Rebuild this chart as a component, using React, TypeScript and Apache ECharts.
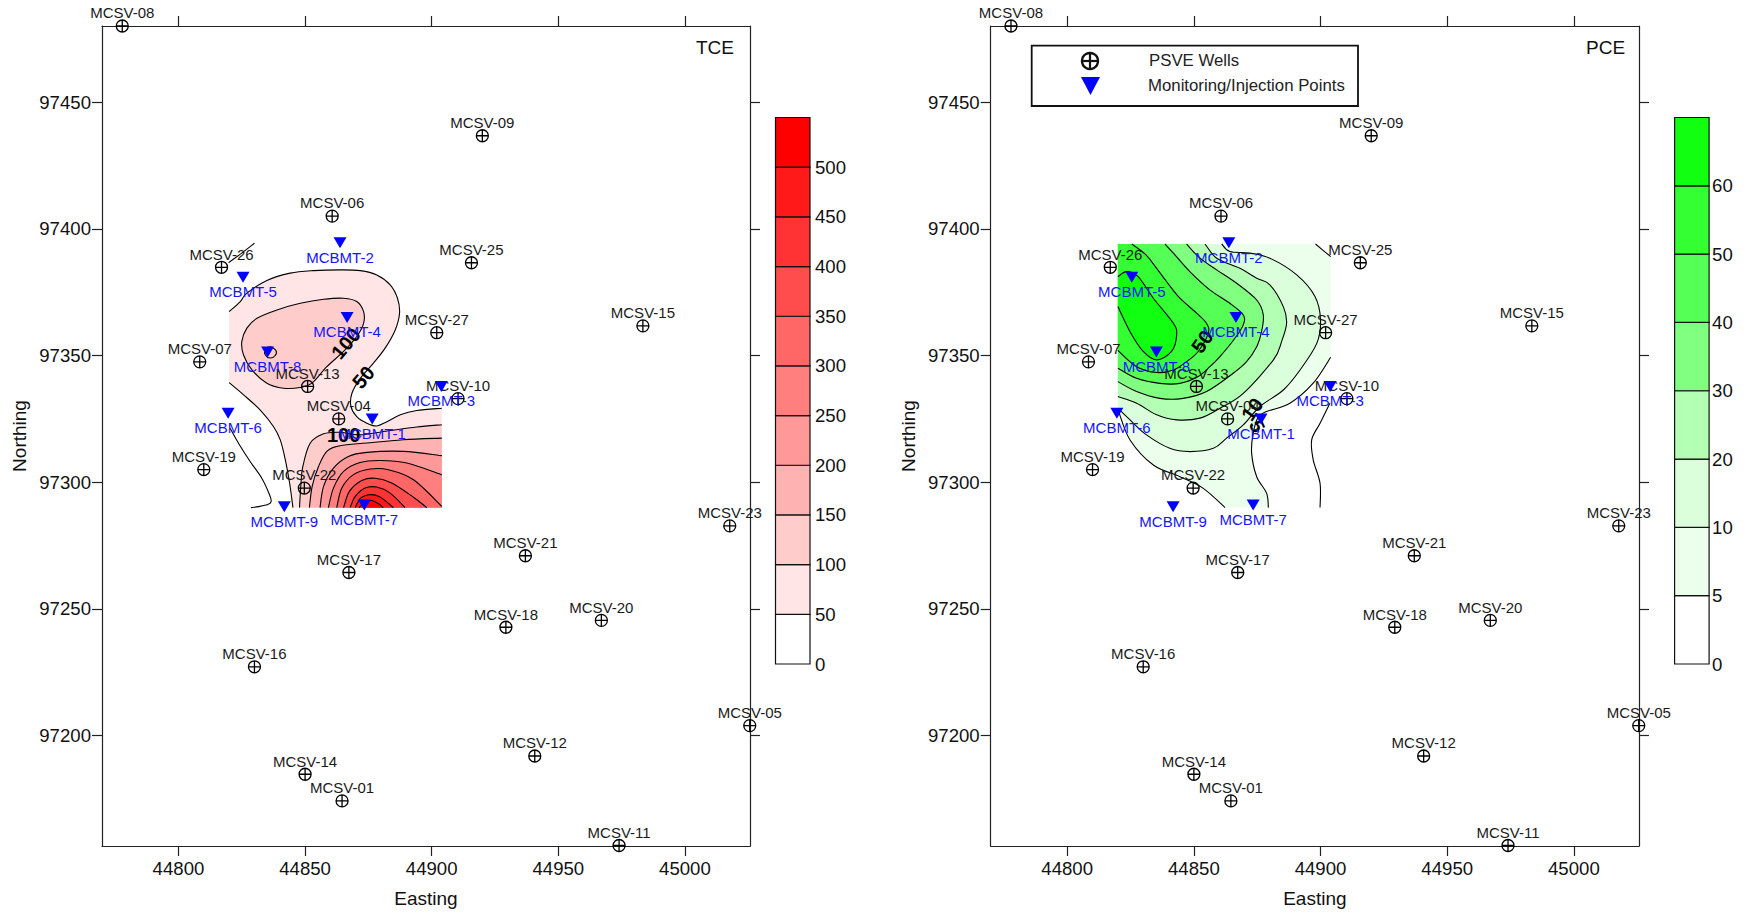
import React, { useEffect, useRef } from "react";
import * as echarts from "echarts";

type Pt = number[];

const FONT = "Liberation Sans";
const xTicks = [44800, 44850, 44900, 44950, 45000];
const yTicks = [97200, 97250, 97300, 97350, 97400, 97450];
const X_MIN = 44769.8, X_MAX = 45025.7, Y_MIN = 97156.5, Y_MAX = 97480;

const wellNames = ["MCSV-08","MCSV-09","MCSV-06","MCSV-26","MCSV-25","MCSV-27","MCSV-15","MCSV-07","MCSV-13","MCSV-10","MCSV-24","MCSV-04","MCSV-19","MCSV-22","MCSV-23","MCSV-21","MCSV-17","MCSV-20","MCSV-18","MCSV-16","MCSV-05","MCSV-12","MCSV-14","MCSV-01","MCSV-11"];
const wellEast = [44777.8,44920,44860.7,44817,44915.7,44902,44983.4,44808.4,44851,44910.4,44769.4,44863.3,44810,44849.7,45017.7,44937,44867.3,44967,44929.3,44830,45025.6,44940.7,44850,44864.6,44974];
const wellNorth = [97480,97436.7,97405,97384.8,97386.6,97359,97361.7,97347.5,97337.8,97333,97333,97325,97305,97297.7,97282.8,97271,97264.4,97245.5,97242.8,97227.2,97204,97192,97184.8,97174.3,97156.7];

const pointNames = ["MCBMT-2","MCBMT-5","MCBMT-4","MCBMT-8","MCBMT-3","MCBMT-6","MCBMT-1","MCBMT-9","MCBMT-7"];
const pointEast = [44863.8,44825.5,44866.6,44835.2,44903.8,44819.6,44876.5,44841.8,44873.4];
const pointNorth = [97394.5,97380.9,97365,97351.4,97337.8,97327.2,97325,97290.3,97291];

const tceLevelLabels = ["0","50","100","150","200","250","300","350","400","450","500",""];
const tceColors = ["#FFFFFF","#FFE5E5","#FFCCCC","#FFB2B2","#FF9999","#FF7F7F","#FF6666","#FF4C4C","#FF3333","#FF1919","#FF0000"];
const pceLevelLabels = ["0","5","10","20","30","40","50","60",""];
const pceColors = ["#FFFFFF","#ECFFEC","#DBFFDB","#B3FFB3","#80FF80","#55FF55","#33FF33","#11FF11"];

const cornerBR: Pt = [44904, 97290];
const cornerTL: Pt = [44820, 97394];

// TCE contours
const tce50Left: Pt[] = [[44820,97339.3],[44825.7,97334.5],[44832.3,97328.5],[44837.5,97322],[44840.2,97316.7],[44842.2,97308.8],[44843.9,97299.6],[44845.2,97290]];
const tce50Upper: Pt[] = [[44820,97367.3],[44824.4,97371.3],[44827,97374.6],[44834.9,97379.6],[44844.1,97382.5],[44853.3,97383.5],[44863.9,97383.8],[44871.8,97383.5],[44878.3,97381.8],[44883.6,97377.9],[44886.5,97372.6],[44887.3,97366.7],[44885.6,97360.1],[44881.6,97352.9],[44877,97347],[44871.8,97341],[44868.5,97335.1],[44868.1,97329.9],[44870.4,97325.9],[44874.4,97323.3],[44878.3,97322.2],[44882.3,97323.9],[44887.6,97326.6],[44894.1,97328.3],[44904,97329.2]];
const tce100Loop: Pt[] = [[44825,97355.5],[44827,97360.8],[44831,97364.7],[44838.9,97368],[44848.1,97370.6],[44857.3,97372.2],[44865.2,97372.6],[44870.4,97371.3],[44873.1,97367.3],[44873.1,97362.7],[44870.4,97357.5],[44865.2,97351.6],[44858.6,97345.6],[44852.7,97339.1],[44848.1,97337.4],[44841.5,97337.1],[44834.9,97339.1],[44829,97344.3],[44825.7,97350.2]];
const tceSmallLoop: Pt[] = [[44836.2,97353.4],[44838.5,97352],[44838.2,97350],[44836.2,97349],[44834.3,97350.2],[44834.3,97352.2]];
const tce100: Pt[] = [[44847.8,97290],[44848.3,97298.4],[44849.1,97306.2],[44852,97315.4],[44857.3,97319.1],[44863.8,97319.7],[44871.7,97318.7],[44883.6,97320.4],[44894.1,97321.8],[44904,97322.7]];
const tce150: Pt[] = [[44851.7,97290],[44852.8,97298.4],[44855.3,97306.2],[44858.6,97312.2],[44863.8,97314.4],[44874.4,97315.5],[44888.8,97316.8],[44904,97317.4]];
const tce200: Pt[] = [[44855.9,97290],[44857.3,97298.4],[44861.2,97305.6],[44867.1,97310.2],[44874.4,97311.8],[44888.8,97312.2],[44904,97310.5]];
const tce250: Pt[] = [[44859.2,97290],[44861.2,97297.7],[44865.2,97304.3],[44871.7,97307.8],[44879.6,97308.6],[44890.2,97307.6],[44904,97303]];
const tce300: Pt[] = [[44862.5,97290],[44864.5,97297.7],[44869.1,97303],[44875.7,97305.2],[44882.9,97304.9],[44892.8,97301],[44904,97290.5]];
const tce350: Pt[] = [[44865.2,97290],[44867.5,97296.4],[44872.4,97300.7],[44877.7,97301.6],[44884.2,97299.7],[44892.8,97294.1],[44898.1,97290]];
const tce400: Pt[] = [[44867.8,97290],[44869.8,97294.4],[44873.7,97297.7],[44878.3,97298.1],[44883.6,97295.7],[44889.5,97290]];
const tce450: Pt[] = [[44869.8,97290],[44872,97293.8],[44875.7,97295.1],[44879.6,97294.2],[44884.9,97290]];
const tce500: Pt[] = [[44871.3,97290],[44873.7,97292.2],[44876.3,97292.8],[44879,97291.5],[44880.9,97290]];
const tceStrayA: Pt[] = [[44819.8,97386.7],[44825,97390.4],[44830,97394.3]];
const tceStrayB: Pt[] = [[44820.4,97321.3],[44823.7,97315.4],[44828.3,97308.2],[44832.9,97301.6],[44836,97295],[44836.6,97292.4],[44835.2,97291.2],[44831.6,97290.4],[44828.6,97290]];

// PCE contours
const pce60: Pt[] = [[44820,97369.3],[44824.8,97359.4],[44830,97351.6],[44835.3,97348.3],[44841.2,97351.6],[44843.2,97358.1],[44841.9,97362.7],[44834,97372.6],[44828,97381.1],[44823.4,97383.1],[44820,97381.1]];
const pce50: Pt[] = [[44820,97352],[44827.4,97345.6],[44835.3,97343.3],[44841.9,97344.3],[44847.1,97347.6],[44851.7,97351.6],[44855.7,97358.8],[44855,97362.7],[44851.1,97366.7],[44844.5,97372.6],[44839.2,97379.2],[44835.3,97384.4],[44831,97389.8],[44825.5,97394]];
const pce40: Pt[] = [[44820,97345],[44827.4,97341],[44836.6,97339],[44844.5,97339],[44851.7,97341.7],[44856.3,97345.6],[44860.3,97349.6],[44866.2,97356.8],[44869.5,97362.1],[44869.5,97366],[44864.2,97370.6],[44856.3,97375.9],[44848.4,97383.1],[44841.9,97390.4],[44838.6,97394]];
const pce30: Pt[] = [[44820,97339.7],[44827.4,97335.8],[44836.6,97333.1],[44845.8,97333.1],[44855,97335.8],[44865.5,97343],[44870.8,97347.6],[44874.8,97353.5],[44876.7,97359.4],[44877.4,97366],[44874.8,97371.9],[44866.9,97378.5],[44859,97383.8],[44852.4,97388.4],[44847.1,97394]];
const pce20: Pt[] = [[44820,97333.8],[44827.4,97331.2],[44835.3,97326.6],[44843.2,97324.6],[44852.4,97325.3],[44860.3,97329.2],[44869.5,97335.1],[44881.4,97348.3],[44884.6,97355.5],[44886.6,97362.7],[44885.3,97369.3],[44880,97377.9],[44874.8,97380.5],[44868.2,97384.4],[44859,97388.4],[44854.4,97394]];
const pce10: Pt[] = [[44820,97329.2],[44824.8,97324.6],[44831.3,97318.7],[44840.5,97313.4],[44848.4,97312.1],[44857.7,97313.4],[44862.9,97317.4],[44869.5,97322.6],[44876.1,97329.9],[44885.3,97336.4],[44891.9,97344.3],[44898.5,97354.8],[44900,97364],[44897.8,97373.3],[44890.6,97381.8],[44880,97388.4],[44872.1,97390.4],[44864.2,97391],[44861,97394]];
const pce5Left: Pt[] = [[44820.3,97327.9],[44824.8,97316.7],[44834,97306.8],[44844.5,97302.2],[44853.7,97297.6],[44862.3,97290]];
const pce5Right: Pt[] = [[44879.4,97290],[44878.7,97295.7],[44874.8,97302.2],[44872.8,97311.5],[44873.4,97319.3],[44875.4,97325.7],[44878.7,97327.9],[44887.9,97331.2],[44897.1,97339.1],[44904,97349.3]];
const pce5Corner: Pt[] = [[44904,97389],[44898,97394]];
const pceStray: Pt[] = [[44903.7,97331.2],[44899.8,97323.3],[44896.5,97316.7],[44897.1,97308.8],[44899.8,97299.6],[44899.8,97290]];

const rev = (a: Pt[]) => [...a].reverse();

type Shape = { fill?: string; runs: Pt[][]; closed?: boolean };

const tceShapes: Shape[] = [
  { fill: tceColors[1], runs: [tce50Left, [cornerBR], rev(tce50Upper)] },
  { fill: tceColors[2], runs: [tce100Loop], closed: true },
  { fill: tceColors[2], runs: [tce100, [cornerBR]] },
  { fill: tceColors[3], runs: [tce150, [cornerBR]] },
  { fill: tceColors[4], runs: [tce200, [cornerBR]] },
  { fill: tceColors[5], runs: [tce250, [cornerBR]] },
  { fill: tceColors[6], runs: [tce300, [cornerBR]] },
  { fill: tceColors[7], runs: [tce350] },
  { fill: tceColors[8], runs: [tce400] },
  { fill: tceColors[9], runs: [tce450] },
  { fill: tceColors[10], runs: [tce500] },
  { runs: [tce50Left] }, { runs: [tce50Upper] },
  { runs: [tce100Loop], closed: true }, { runs: [tceSmallLoop], closed: true },
  { runs: [tce100] }, { runs: [tce150] }, { runs: [tce200] }, { runs: [tce250] },
  { runs: [tce300] }, { runs: [tce350] }, { runs: [tce400] }, { runs: [tce450] }, { runs: [tce500] },
  { runs: [tceStrayA] }, { runs: [tceStrayB] },
];

const pceShapes: Shape[] = [
  { fill: pceColors[1], runs: [pce5Left, pce5Right, pce5Corner, [cornerTL]] },
  { fill: pceColors[2], runs: [pce10, [cornerTL]] },
  { fill: pceColors[3], runs: [pce20, [cornerTL]] },
  { fill: pceColors[4], runs: [pce30, [cornerTL]] },
  { fill: pceColors[5], runs: [pce40, [cornerTL]] },
  { fill: pceColors[6], runs: [pce50, [cornerTL]] },
  { fill: pceColors[7], runs: [pce60] },
  { runs: [pce5Left] }, { runs: [pce5Right] }, { runs: [pce5Corner] },
  { runs: [pce10] }, { runs: [pce20] }, { runs: [pce30] }, { runs: [pce40] }, { runs: [pce50] },
  { runs: [pce60] }, { runs: [pceStray] },
];

const tceLabelTexts = ["100", "50", "100"];
const tceLabelPos: Pt[] = [[44866.1, 97354.8], [44873, 97341.4], [44865.2, 97318.7]];
const tceLabelAngles = [50, 50, 0];
const pceLabelTexts = ["50", "10", "5"];
const pceLabelPos: Pt[] = [[44853.3, 97355.5], [44873, 97328.8], [44875, 97322.2]];
const pceLabelAngles = [55, 55, -65];

const WELL_SYMBOL = "path://M0,10 A10,10 0 1 1 20,10 A10,10 0 1 1 0,10 Z M10,0 L10,20 M0,10 L20,10";
const POINT_SYMBOL = "path://M0,0 L12,0 L6,10 Z";

function curve(p: number[][], closed: boolean, move: string): string {
  const n = p.length;
  let d = `${move}${p[0][0]} ${p[0][1]}`;
  if (n === 1) return d;
  const segs = closed ? n : n - 1;
  for (let i = 0; i < segs; i++) {
    const a = closed ? p[(i - 1 + n) % n] : p[Math.max(i - 1, 0)];
    const b = p[i];
    const c = closed ? p[(i + 1) % n] : p[i + 1];
    const e = closed ? p[(i + 2) % n] : p[Math.min(i + 2, n - 1)];
    d += `C${b[0] + (c[0] - a[0]) / 6} ${b[1] + (c[1] - a[1]) / 6} ${c[0] - (e[0] - b[0]) / 6} ${c[1] - (e[1] - b[1]) / 6} ${c[0]} ${c[1]}`;
  }
  return d;
}

function contourSeries(shapes: Shape[], axis: number) {
  return {
    type: "custom", xAxisIndex: axis, yAxisIndex: axis, silent: true, z: 2,
    data: shapes.map((_, i) => [i, 0]),
    renderItem: (params: any, api: any) => {
      const s = shapes[params.dataIndex];
      let d = "";
      s.runs.forEach((run, k) => {
        const px = run.map((q) => api.coord(q));
        d += curve(px, !!s.closed, k === 0 ? "M" : "L");
      });
      if (s.fill) d += "Z";
      return {
        type: "path",
        shape: { pathData: d },
        style: s.fill
          ? { fill: s.fill, stroke: null }
          : { fill: null, stroke: "#000", lineWidth: 1.1 },
      };
    },
  };
}

function barSeries(colors: string[], axis: number) {
  return {
    type: "custom", xAxisIndex: axis, yAxisIndex: axis, silent: true, z: 2,
    data: colors.map((_, i) => [0, i, i + 1]),
    renderItem: (params: any, api: any) => {
      const i = params.dataIndex;
      const a = api.coord([0, api.value(1)]);
      const b = api.coord([1, api.value(2)]);
      return {
        type: "rect",
        shape: { x: a[0], y: b[1], width: b[0] - a[0], height: a[1] - b[1] },
        style: { fill: colors[i], stroke: "#111", lineWidth: 1.2 },
      };
    },
  };
}

function markerSeries(names: string[], east: number[], north: number[], axis: number, symbol: string, isWell: boolean) {
  return {
    type: "scatter", xAxisIndex: axis, yAxisIndex: axis, silent: true, z: isWell ? 4 : 5,
    symbol, symbolSize: isWell ? 12 : [13, 11],
    itemStyle: isWell
      ? { color: "transparent", borderColor: "#000", borderWidth: 1.3, opacity: 1 }
      : { color: "#0000FF", opacity: 1 },
    label: {
      show: true, position: isWell ? "top" : "bottom", distance: isWell ? -1 : 1.5,
      formatter: "{b}", fontFamily: FONT, fontSize: 15, color: isWell ? "#1a1a1a" : "#1414FF",
    },
    data: names.map((name, i) => ({ name, value: [east[i], north[i]] })),
  };
}

function contourLabelSeries(texts: string[], pos: Pt[], angles: number[], axis: number) {
  return {
    type: "scatter", xAxisIndex: axis, yAxisIndex: axis, silent: true, z: 3,
    symbolSize: 1, itemStyle: { color: "transparent" },
    data: texts.map((name, i) => ({
      name, value: pos[i],
      label: {
        show: true, position: "inside", rotate: angles[i], formatter: "{b}", opacity: 1,
        fontFamily: FONT, fontSize: 20, fontWeight: "bold", color: "#000",
      },
    })),
  };
}

const lineStyle = { color: "#222", width: 1.2 };

function plotAxes(gridIndex: number) {
  const common = {
    type: "value", gridIndex, splitLine: { show: false },
    axisLine: { show: true, onZero: false, lineStyle },
  };
  const tick = (customValues: number[]) => ({ show: true, length: 10, inside: false, customValues, lineStyle });
  const labelStyle = { fontFamily: FONT, fontSize: 18.6, color: "#111" };
  const nameStyle = { fontFamily: FONT, fontSize: 19, color: "#111" };
  const xAxes = [
    { ...common, position: "bottom", min: X_MIN, max: X_MAX, axisTick: tick(xTicks),
      axisLabel: { ...labelStyle, margin: 13, customValues: xTicks, formatter: (v: number) => String(v) },
      name: "Easting", nameLocation: "middle", nameGap: 43, nameTextStyle: nameStyle },
    { ...common, position: "top", min: X_MIN, max: X_MAX, axisTick: tick(xTicks), axisLabel: { show: false } },
  ];
  const yAxes = [
    { ...common, position: "left", min: Y_MIN, max: Y_MAX, axisTick: tick(yTicks),
      axisLabel: { ...labelStyle, margin: 11, customValues: yTicks, formatter: (v: number) => String(v) },
      name: "Northing", nameLocation: "middle", nameGap: 73, nameTextStyle: nameStyle },
    { ...common, position: "right", min: Y_MIN, max: Y_MAX, axisTick: tick(yTicks), axisLabel: { show: false } },
  ];
  return { xAxes, yAxes };
}

function barAxes(gridIndex: number, labels: string[], margin: number) {
  const n = labels.length - 1;
  return {
    x: { type: "value", gridIndex, min: 0, max: 1, show: false },
    y: {
      type: "value", gridIndex, position: "right", min: 0, max: n, interval: 1,
      splitLine: { show: false }, axisLine: { show: false }, axisTick: { show: false },
      axisLabel: {
        fontFamily: FONT, fontSize: 18.6, color: "#111", margin,
        formatter: (v: number) => labels[v] ?? "",
      },
    },
  };
}

function buildOption() {
  const left = plotAxes(0);
  const right = plotAxes(2);
  const b1 = barAxes(1, tceLevelLabels, 5);
  const b2 = barAxes(3, pceLevelLabels, 3);
  const textCommon = { fontFamily: FONT, fontSize: 16.8, fill: "#222" };
  return {
    animation: false,
    backgroundColor: "#fff",
    title: [
      { text: "TCE", left: 696, top: 38, padding: 0, textStyle: { fontFamily: FONT, fontSize: 19, fontWeight: "normal", color: "#111" } },
      { text: "PCE", left: 1586, top: 38, padding: 0, textStyle: { fontFamily: FONT, fontSize: 19, fontWeight: "normal", color: "#111" } },
    ],
    grid: [
      { left: 102, top: 26, width: 648, height: 820 },
      { left: 775.5, top: 117.5, width: 34.5, height: 546.5 },
      { left: 990.7, top: 26, width: 648.3, height: 820 },
      { left: 1674.6, top: 117.5, width: 34.5, height: 546.5 },
    ],
    xAxis: [...left.xAxes, b1.x, ...right.xAxes, b2.x],
    yAxis: [...left.yAxes, b1.y, ...right.yAxes, b2.y],
    graphic: [
      { type: "rect", z: 10, shape: { x: 1031.7, y: 45.7, width: 326.3, height: 60.3 }, style: { fill: "#fff", stroke: "#111", lineWidth: 1.8 } },
      { type: "circle", z: 11, shape: { cx: 1090, cy: 61, r: 8 }, style: { fill: "#fff", stroke: "#111", lineWidth: 2.4 } },
      { type: "line", z: 11, shape: { x1: 1090, y1: 52, x2: 1090, y2: 70 }, style: { stroke: "#111", lineWidth: 2.2 } },
      { type: "line", z: 11, shape: { x1: 1081, y1: 61, x2: 1099, y2: 61 }, style: { stroke: "#111", lineWidth: 2.2 } },
      { type: "polygon", z: 11, shape: { points: [[1081, 77], [1100, 77], [1090.5, 95]] }, style: { fill: "#0000FF" } },
      { type: "text", z: 11, x: 1149, y: 60, style: { ...textCommon, text: "PSVE Wells", verticalAlign: "middle" } },
      { type: "text", z: 11, x: 1148, y: 85, style: { ...textCommon, text: "Monitoring/Injection Points", verticalAlign: "middle" } },
    ],
    series: [
      contourSeries(tceShapes, 0),
      contourLabelSeries(tceLabelTexts, tceLabelPos, tceLabelAngles, 0),
      markerSeries(wellNames, wellEast, wellNorth, 0, WELL_SYMBOL, true),
      markerSeries(pointNames, pointEast, pointNorth, 0, POINT_SYMBOL, false),
      barSeries(tceColors, 2),
      contourSeries(pceShapes, 3),
      contourLabelSeries(pceLabelTexts, pceLabelPos, pceLabelAngles, 3),
      markerSeries(wellNames, wellEast, wellNorth, 3, WELL_SYMBOL, true),
      markerSeries(pointNames, pointEast, pointNorth, 3, POINT_SYMBOL, false),
      barSeries(pceColors, 5),
    ],
  };
}

export default function App() {
  const ref = useRef<HTMLDivElement>(null);
  useEffect(() => {
    const chart = echarts.init(ref.current!, undefined, { renderer: "svg" });
    chart.setOption(buildOption() as any);
    return () => chart.dispose();
  }, []);
  return <div ref={ref} style={{ position: "fixed", left: 0, top: 0, width: 1747, height: 914 }} />;
}
